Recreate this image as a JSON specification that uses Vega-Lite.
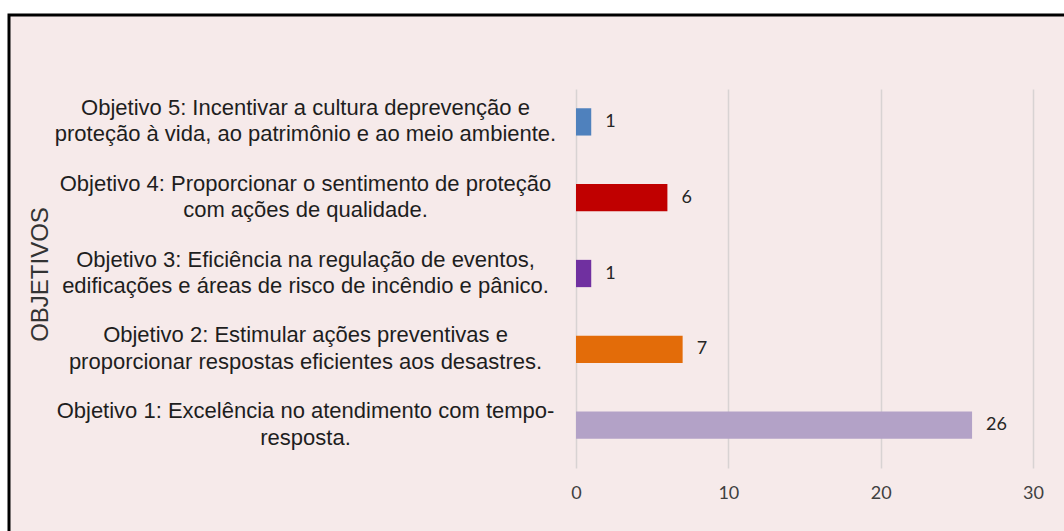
{
  "$schema": "https://vega.github.io/schema/vega-lite/v6.json",
  "width": 1061,
  "height": 522,
  "autosize": {"type": "none"},
  "padding": {"left": 9, "top": 15, "right": -6, "bottom": -6},
  "background": "#ffffff",
  "view": {"fill": "#f6eaea", "stroke": "#000000", "strokeWidth": 3},
  "data": {
    "values": [
      {"objetivo": "Objetivo 5: Incentivar a cultura deprevenção e|proteção à vida, ao patrimônio e ao meio ambiente.", "valor": 1},
      {"objetivo": "Objetivo 4: Proporcionar o sentimento de proteção|com ações de qualidade.", "valor": 6},
      {"objetivo": "Objetivo 3: Eficiência na regulação de eventos,|edificações e áreas de risco de incêndio e pânico.", "valor": 1},
      {"objetivo": "Objetivo 2: Estimular ações preventivas e|proporcionar respostas eficientes aos desastres.", "valor": 7},
      {"objetivo": "Objetivo 1: Excelência no atendimento com tempo-|resposta.", "valor": 26}
    ]
  },
  "encoding": {
    "y": {
      "field": "objetivo",
      "type": "nominal",
      "sort": null,
      "scale": {"range": [69, 448], "paddingInner": 0.64, "paddingOuter": 0.32},
      "axis": {
        "offset": -567,
        "domain": false,
        "ticks": false,
        "grid": false,
        "labelPadding": 271,
        "labelAlign": "center",
        "labelBaseline": "middle",
        "labelOffset": -14,
        "labelExpr": "split(datum.label, '|')",
        "labelLineHeight": 26.5,
        "labelFont": "Liberation Sans",
        "labelFontSize": 22,
        "labelColor": "#1e1e1e",
        "labelLimit": 800,
        "title": "OBJETIVOS",
        "titleX": -536,
        "titleY": 259,
        "titleAngle": -90,
        "titleAlign": "center",
        "titleBaseline": "middle",
        "titleFont": "Liberation Sans",
        "titleFontSize": 24,
        "titleFontWeight": "normal",
        "titleColor": "#333333"
      }
    },
    "x": {
      "field": "valor",
      "type": "quantitative",
      "scale": {"domain": [0, 30], "range": [567, 1024], "nice": false, "zero": true},
      "axis": {
        "values": [0, 10, 20, 30],
        "offset": -74,
        "domain": false,
        "ticks": false,
        "grid": true,
        "gridColor": "#d8d3d3",
        "gridWidth": 1.5,
        "labelPadding": 30,
        "labelBaseline": "middle",
        "labelFlush": false,
        "labelFont": "Lato",
        "labelFontSize": 18,
        "labelColor": "#404040",
        "title": null
      }
    }
  },
  "layer": [
    {
      "mark": {"type": "bar"},
      "encoding": {
        "color": {
          "field": "objetivo",
          "type": "nominal",
          "scale": {
            "domain": [
              "Objetivo 5: Incentivar a cultura deprevenção e|proteção à vida, ao patrimônio e ao meio ambiente.",
              "Objetivo 4: Proporcionar o sentimento de proteção|com ações de qualidade.",
              "Objetivo 3: Eficiência na regulação de eventos,|edificações e áreas de risco de incêndio e pânico.",
              "Objetivo 2: Estimular ações preventivas e|proporcionar respostas eficientes aos desastres.",
              "Objetivo 1: Excelência no atendimento com tempo-|resposta."
            ],
            "range": ["#4f81bd", "#c00000", "#7030a0", "#e36c09", "#b3a2c7"]
          },
          "legend": null
        }
      }
    },
    {
      "mark": {"type": "text", "align": "left", "baseline": "middle", "dx": 14, "font": "Lato", "fontSize": 18, "color": "#262626"},
      "encoding": {"text": {"field": "valor", "type": "quantitative"}}
    }
  ]
}
